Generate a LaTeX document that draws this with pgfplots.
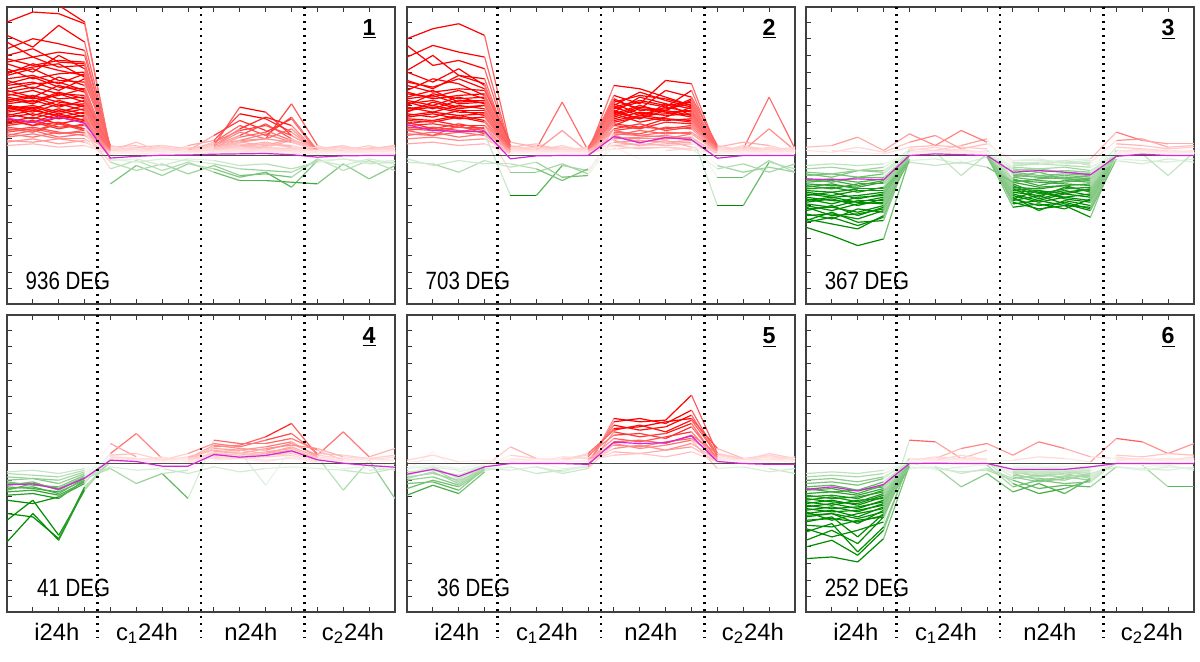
\documentclass[border=0pt]{standalone}
\usepackage{fontspec}
\setmainfont{Liberation Sans}
\newfontfamily\narrowfont[FakeStretch=0.82]{Liberation Sans}
\usepackage{pgfplots}
\usepackage{pgfplotstable}
\pgfplotsset{compat=1.18}
\definecolor{meanc}{RGB}{210,40,210}

% each row = one gene profile over 16 time points (4 per condition)
\pgfplotstableread{
9.5 9.2 9.0 8.0 0.3 0.2 0.4 0.1 0.2 0.5 0.3 0.2 0.1 0.2 0.3 0.2
8.0 8.6 8.5 7.9 0.2 0.5 0.1 0.3 0.3 0.4 0.5 0.2 0.3 0.2 0.1 0.4
7.2 6.5 7.8 6.8 0.4 0.1 0.3 0.2 0.1 0.2 0.1 0.0 0.2 0.3 0.2 0.1
6.4 7.0 6.7 6.3 0.3 0.5 0.3 0.2 0.2 0.3 0.4 0.2 0.3 0.2 0.3 0.3
6.8 5.9 6.2 6.0 0.5 0.6 0.2 0.3 0.8 1.5 1.8 1.2 0.3 0.2 0.4 0.3
6.0 6.4 5.6 5.5 0.2 0.3 0.5 0.2 0.4 0.6 0.5 0.9 0.5 0.3 0.6 0.2
5.8 5.4 5.7 5.6 0.4 0.3 0.2 0.2 0.3 0.4 0.3 0.4 0.2 0.3 0.2 0.3
5.6 5.9 5.3 5.4 0.3 0.2 0.3 0.4 0.3 0.5 0.4 0.3 0.2 0.3 0.2 0.2
5.5 5.0 6.0 5.2 0.3 0.8 0.2 0.4 0.6 2.9 2.6 1.2 0.4 0.5 0.3 0.5
5.2 4.6 4.9 5.0 0.1 0.2 0.4 0.1 0.2 0.3 0.2 0.5 0.2 0.1 0.3 0.6
5.0 5.3 5.5 4.7 0.2 0.3 0.2 0.3 0.4 0.6 0.8 0.5 0.3 0.2 0.2 0.3
4.9 5.5 5.1 4.8 0.3 0.2 0.4 0.3 0.6 1.2 1.9 1.0 0.3 0.2 0.3 0.2
4.8 5.2 4.5 4.4 0.6 0.3 0.2 0.5 0.3 0.8 1.0 3.1 0.6 0.2 0.1 0.3
4.6 4.8 4.3 4.9 0.3 0.4 0.3 0.2 0.2 0.3 0.3 0.2 0.2 0.2 0.3 0.2
4.5 4.0 4.7 4.2 -0.3 0.2 0.5 0.3 0.5 0.7 0.4 0.3 0.1 0.4 0.2 0.2
4.3 4.7 4.1 4.0 0.2 0.1 0.2 0.3 0.5 0.9 1.3 0.8 0.3 0.2 0.3 0.2
4.2 4.4 3.9 4.6 0.2 0.4 0.1 0.6 0.9 2.5 2.2 1.4 0.3 0.1 0.5 0.4
4.0 4.3 4.4 3.9 0.2 0.3 0.2 0.4 0.4 0.5 0.7 0.6 0.2 0.4 0.3 0.2
3.9 3.5 4.2 3.8 0.4 0.1 0.3 0.2 0.2 0.1 0.3 0.2 0.5 0.3 0.2 0.1
3.8 4.1 3.7 3.6 0.3 0.2 0.2 0.2 0.3 0.3 0.2 0.3 0.2 0.3 0.2 0.3
3.7 3.4 3.6 4.0 0.3 0.2 0.3 0.2 0.3 0.2 0.4 0.3 0.3 0.2 0.2 0.4
3.6 3.9 3.4 3.5 0.3 0.5 0.6 0.4 0.6 1.6 2.3 1.8 0.2 0.4 0.3 0.5
3.5 3.2 3.8 3.4 0.2 0.3 0.4 0.2 0.4 0.6 0.5 0.4 0.3 0.2 0.2 0.2
3.4 3.1 3.7 3.2 0.2 0.3 0.1 0.2 0.3 0.4 0.6 0.2 0.3 0.2 0.4 0.3
3.3 3.6 3.2 3.0 0.2 0.4 0.1 0.2 0.8 1.8 1.2 2.3 0.3 0.2 0.4 0.2
3.2 3.5 3.0 3.1 0.1 0.2 0.2 0.3 0.2 0.3 0.2 0.2 0.2 0.1 0.2 0.3
3.1 3.3 2.9 3.3 0.5 0.2 0.4 0.3 1.2 2.1 1.5 0.9 0.4 0.6 0.2 0.4
3.0 2.8 3.3 2.9 0.3 0.2 0.3 0.2 0.6 1.4 1.0 1.6 0.2 0.3 0.2 0.2
2.9 2.6 3.1 2.7 0.1 0.4 0.2 0.5 0.2 0.3 0.2 0.1 0.2 0.1 0.3 0.2
2.8 3.0 2.6 3.0 0.3 0.1 0.2 0.3 0.2 0.4 0.3 0.2 0.2 0.3 0.1 0.2
2.7 2.9 2.5 2.8 0.3 0.2 0.6 0.1 0.5 1.1 1.4 2.2 0.2 0.3 0.1 0.3
2.6 2.8 2.3 2.6 0.2 0.3 0.2 0.2 0.2 0.4 0.3 0.3 0.2 0.2 0.3 0.2
2.5 2.2 2.7 2.3 0.2 0.1 0.3 0.2 0.1 0.2 0.4 0.3 0.1 0.2 0.2 0.1
2.4 2.7 2.4 2.1 0.1 0.3 0.2 0.1 0.5 0.8 0.6 1.0 0.1 0.2 0.3 0.2
2.3 2.5 2.2 2.4 0.4 0.3 0.2 0.4 0.7 0.9 1.0 0.8 0.3 0.5 0.4 0.6
2.2 2.0 2.5 2.1 0.3 0.2 0.2 0.1 0.3 0.2 0.4 0.3 0.2 0.3 0.2 0.2
2.1 1.8 2.3 2.0 0.1 0.2 0.1 0.3 0.2 0.1 0.3 0.2 0.2 0.1 0.2 0.3
2.0 2.3 1.9 2.2 0.2 0.2 0.3 0.2 0.2 0.3 0.2 0.2 0.2 0.3 0.2 0.1
1.9 2.1 1.7 1.8 0.3 0.4 0.2 0.1 0.3 0.5 0.2 0.4 0.5 0.3 0.2 0.2
1.8 2.0 1.6 1.9 0.2 0.2 0.3 0.2 0.2 0.3 0.2 0.3 0.2 0.2 0.1 0.2
1.7 1.5 1.9 1.6 0.2 0.1 0.4 0.2 0.4 0.6 0.7 0.5 0.2 0.4 0.3 0.1
1.5 1.7 1.4 1.4 0.1 0.3 0.2 0.2 0.2 0.3 0.1 0.2 0.1 0.2 0.3 0.2
1.4 1.6 1.3 1.5 0.2 0.1 0.2 0.2 0.1 0.2 0.3 0.2 0.2 0.1 0.2 0.2
1.3 1.1 1.4 1.2 0.2 0.2 0.1 0.3 0.3 0.2 0.4 0.3 0.2 0.1 0.2 0.3
1.1 1.3 1.0 1.0 0.1 0.2 0.3 0.1 0.1 0.2 0.2 0.1 0.3 0.2 0.1 0.2
0.9 0.8 1.0 0.8 0.2 0.1 0.2 0.2 0.2 0.1 0.3 0.2 0.1 0.2 0.2 0.1
0.6 0.7 0.5 0.6 0.1 0.2 0.1 0.1 0.1 0.2 0.1 0.2 0.2 0.1 0.1 0.2
2.2 1.8 2.0 1.6 -1.7 -0.6 -1.2 -0.5 -0.8 -1.3 -1.0 -1.9 -0.3 -0.2 -0.4 -0.3
1.6 1.4 1.9 1.5 -0.8 -0.3 -0.9 -0.4 -1.0 -1.5 -1.5 -1.6 -1.7 -0.5 -1.4 -0.6
1.2 1.5 1.1 1.3 -0.4 -0.9 -0.5 -1.1 -0.6 -1.2 -1.1 -1.3 -0.2 -0.9 -0.3 -0.9
3.0 2.4 2.8 2.5 -0.2 -0.4 -0.2 -0.3 -0.5 -0.8 -0.9 -1.0 -0.3 -0.6 -0.2 -0.5
0.8 1.0 0.7 0.9 -0.3 -0.2 -0.6 -0.2 -0.3 -0.6 -0.5 -0.8 -0.4 -0.2 -0.5 -0.4
}\rawA
\pgfplotstabletranspose\tabA\rawA

\pgfplotstableread{
7.0 7.6 7.9 7.2 0.5 0.3 0.6 0.2 0.8 0.6 0.9 0.5 0.3 0.2 0.4 0.3
6.6 5.4 5.7 5.2 0.4 0.3 0.2 0.5 0.6 0.4 0.5 0.3 0.3 0.2 0.2 0.3
5.9 6.6 6.2 5.9 0.4 0.2 0.3 0.1 1.8 2.4 2.9 3.9 0.2 0.5 0.3 0.2
5.1 6.0 4.8 4.6 0.3 0.6 0.4 0.2 4.2 4.0 3.5 3.0 0.4 0.3 0.2 0.4
5.0 4.4 5.2 4.2 0.6 0.3 0.5 0.3 3.6 3.1 4.5 4.3 0.3 0.4 3.5 0.4
4.5 4.0 4.8 4.3 0.2 0.4 3.2 0.3 3.0 3.8 3.3 2.9 0.5 0.8 0.6 0.2
4.4 4.1 4.6 4.0 0.3 0.2 0.3 0.4 3.2 3.6 3.4 3.0 0.3 0.2 0.3 0.2
4.2 3.8 4.0 3.9 0.8 0.5 0.2 0.4 3.3 2.8 3.9 3.5 0.6 0.3 1.6 0.3
3.9 4.6 4.3 3.6 0.3 0.5 0.4 0.3 2.6 3.5 3.1 2.4 0.2 0.4 0.3 0.2
3.8 3.4 3.6 3.7 0.3 0.2 0.4 0.2 2.9 3.3 3.0 3.2 0.3 0.2 0.3 0.5
3.7 3.5 3.9 3.4 0.2 0.3 0.2 0.2 2.4 2.9 2.7 3.3 0.2 0.3 0.2 0.3
3.5 3.9 3.2 3.3 0.5 0.7 0.3 0.4 3.1 2.5 2.7 3.4 0.2 0.6 0.3 0.2
3.4 3.6 3.1 3.2 0.3 0.2 0.4 0.3 2.9 2.4 2.5 2.7 0.3 0.2 0.3 0.2
3.3 3.0 3.5 3.1 0.2 0.3 1.5 0.2 2.5 3.0 2.6 2.7 0.4 0.2 0.2 0.3
3.2 2.8 3.3 3.3 0.2 0.3 0.2 0.2 2.3 2.8 2.6 2.3 0.2 0.3 0.2 0.2
3.1 3.3 2.9 3.0 0.4 0.2 0.3 0.5 2.7 2.2 3.1 2.8 0.3 0.5 0.4 0.2
3.0 3.7 3.4 3.5 0.2 0.3 0.2 0.4 3.4 2.7 2.8 3.1 0.3 0.2 0.4 0.3
2.9 2.6 3.0 2.8 0.3 0.5 0.2 0.3 2.2 2.6 2.4 2.5 0.5 0.3 0.2 0.4
2.8 3.0 2.7 2.7 0.3 0.2 0.2 0.3 2.6 2.2 2.7 2.4 0.3 0.2 0.2 0.3
2.7 2.9 2.6 2.6 0.2 0.3 0.4 0.2 2.5 2.0 2.3 2.9 0.2 0.4 0.3 0.3
2.6 3.2 2.8 3.0 0.4 0.2 0.3 0.2 2.8 3.2 2.9 2.6 0.4 0.2 0.3 0.2
2.5 2.3 2.7 2.4 0.5 0.2 0.3 0.4 2.0 2.3 2.1 2.2 0.3 0.2 0.5 0.2
2.4 2.6 2.4 2.5 0.2 0.2 0.3 0.2 2.1 2.4 2.2 2.0 0.2 0.3 0.2 0.2
2.3 2.5 2.2 2.3 0.3 0.4 0.2 0.1 1.8 1.6 2.0 1.9 0.2 0.3 0.2 0.3
2.2 2.1 2.4 2.1 0.3 0.2 0.2 0.2 1.9 1.7 2.2 2.1 0.2 0.2 0.3 0.2
2.1 2.0 2.3 2.0 0.2 0.1 0.3 0.2 1.6 1.9 1.5 1.7 0.4 0.2 0.3 0.2
1.9 2.1 1.8 1.8 0.4 0.3 0.2 0.3 1.4 1.3 1.7 1.6 0.2 0.3 0.2 0.4
1.8 1.9 1.7 1.7 0.2 0.3 0.2 0.2 1.5 1.7 1.6 1.8 0.2 0.2 0.2 0.3
1.7 1.6 1.9 1.6 0.2 0.2 0.3 0.2 1.2 1.5 1.3 1.4 0.3 0.2 0.1 0.2
1.6 1.5 1.7 1.5 0.2 0.2 0.2 0.1 1.3 1.2 1.4 1.3 0.2 0.1 0.2 0.2
1.5 1.7 1.5 1.4 0.3 0.2 0.2 0.3 1.0 1.1 1.2 1.0 0.2 0.1 0.2 0.3
1.3 1.2 1.4 1.2 0.1 0.2 0.1 0.2 0.8 0.9 0.8 0.9 0.1 0.2 0.2 0.1
1.2 1.4 1.1 1.3 0.1 0.2 0.1 0.2 1.1 1.0 1.0 1.1 0.1 0.2 0.1 0.1
1.0 1.1 0.9 1.0 0.2 0.1 0.2 0.1 0.6 0.7 0.6 0.7 0.2 0.1 0.1 0.2
0.7 0.8 0.6 0.7 0.1 0.1 0.1 0.2 0.4 0.5 0.5 0.4 0.1 0.2 0.1 0.1
1.5 1.2 1.8 1.3 -2.4 -2.4 -0.6 -0.9 1.2 0.8 1.0 1.3 -3.0 -3.0 -0.4 -0.8
2.0 1.6 1.4 1.7 -1.0 -1.0 -0.5 -1.1 1.5 1.2 1.1 1.0 -1.3 -1.3 -0.3 -1.0
-0.4 -0.5 -1.0 -0.3 -0.7 -0.4 -1.3 -1.2 0.9 0.6 0.7 0.8 -0.6 -1.0 -0.7 -1.0
-0.2 -0.6 -0.3 -0.5 -0.5 -0.8 -1.5 -0.8 0.5 -0.2 0.3 0.4 -0.8 -0.5 -1.0 -0.5
}\rawB
\pgfplotstabletranspose\tabB\rawB

\pgfplotstableread{
-4.3 -4.8 -5.4 -5.0 -0.2 0.1 0.3 0.1 -2.8 -3.2 -3.0 -3.7 0.2 0.1 -0.2 0.1
-4.0 -3.7 -4.2 -3.7 0.1 0.1 0.2 0.1 -2.6 -3.0 -2.8 -3.2 0.1 0.2 0.1 0.1
-3.9 -3.4 -4.0 -3.9 0.2 0.1 0.3 0.1 -2.0 -2.6 -2.2 -2.0 0.3 0.2 0.2 0.1
-3.8 -4.1 -4.4 -3.6 0.1 -0.2 0.2 0.0 -3.1 -2.9 -3.2 -2.6 0.1 -0.1 0.2 0.0
-3.6 -3.5 -3.8 -3.3 0.1 0.2 0.1 0.2 -2.9 -2.7 -3.0 -3.1 0.2 0.1 0.2 0.1
-3.5 -3.8 -3.2 -3.4 0.2 0.3 0.1 0.2 -2.5 -3.3 -2.7 -3.0 0.3 0.2 0.1 0.2
-3.3 -3.0 -3.6 -3.1 -0.3 -0.2 -0.5 -0.1 -2.7 -2.4 -2.9 -3.3 -0.2 -0.3 -0.4 -0.2
-3.2 -3.1 -3.4 -3.0 0.2 0.1 0.2 0.1 -2.4 -2.8 -2.5 -2.7 0.1 0.2 0.1 0.2
-3.1 -3.6 -3.5 -3.2 0.1 0.3 0.2 0.2 -2.6 -2.1 -2.6 -2.8 0.1 0.2 0.1 0.3
-3.0 -3.3 -2.9 -2.8 0.1 0.2 0.3 0.1 -2.3 -2.7 -2.3 -2.5 0.2 0.1 0.3 0.2
-2.9 -3.1 -2.7 -2.7 0.1 0.2 0.1 0.2 -2.2 -2.4 -2.1 -2.4 0.2 0.1 0.1 0.2
-2.8 -2.6 -3.0 -2.6 0.3 0.1 0.2 0.2 -2.1 -2.2 -2.5 -2.3 0.1 0.2 0.1 0.1
-2.7 -2.5 -2.8 -2.5 0.2 0.1 0.2 0.2 -2.0 -2.1 -2.3 -2.0 0.1 0.2 0.2 0.1
-2.6 -2.9 -2.5 -2.4 0.2 0.2 0.4 0.1 -1.9 -2.0 -1.8 -2.2 0.2 0.4 0.2 0.3
-2.5 -2.7 -2.8 -2.9 0.2 0.3 0.2 0.1 -1.8 -2.5 -1.9 -2.1 0.2 0.3 0.2 0.2
-2.4 -2.2 -2.6 -2.3 -0.2 0.1 -0.3 0.1 -1.7 -2.3 -2.0 -1.9 0.1 -0.1 0.1 0.2
-2.3 -2.5 -2.4 -2.2 0.1 0.2 0.1 0.1 -1.6 -1.9 -1.8 -1.7 0.2 0.1 0.1 0.2
-2.2 -2.4 -2.1 -2.1 0.1 0.2 0.1 0.3 -1.5 -1.6 -1.7 -1.8 0.3 0.2 0.1 0.2
-2.1 -2.2 -2.0 -2.0 0.2 0.1 0.1 0.2 -1.3 -1.5 -1.6 -1.4 0.1 0.1 0.2 0.1
-2.0 -1.9 -2.2 -1.9 0.3 0.5 0.2 0.1 -1.4 -1.8 -1.5 -1.6 0.2 0.1 0.2 0.1
-1.9 -1.7 -2.0 -2.0 -0.4 -0.6 -0.4 -0.7 -1.6 -1.4 -1.3 -1.4 -0.3 -0.5 -0.2 -0.4
-1.8 -2.0 -1.7 -1.7 0.1 0.1 0.2 0.2 -1.2 -1.3 -1.4 -1.5 0.1 0.3 0.2 0.1
-1.7 -1.8 -1.9 -1.6 0.1 0.1 0.2 0.1 -1.1 -1.3 -1.2 -1.3 0.1 0.2 0.1 0.1
-1.6 -1.5 -1.8 -1.5 -0.2 0.2 -1.2 0.1 -1.0 -1.2 -1.1 -1.2 -0.3 0.1 -1.2 0.2
-1.5 -1.4 -1.6 -1.4 0.1 0.2 0.1 0.1 -0.8 -1.0 -0.9 -1.0 0.2 0.1 0.1 0.1
-1.4 -1.6 -1.3 -1.3 0.1 0.2 0.1 0.1 -0.9 -0.8 -1.0 -1.1 0.2 0.1 0.1 0.3
-1.2 -1.1 -1.3 -1.1 0.2 0.1 0.3 0.2 -0.7 -0.8 -0.7 -0.9 0.1 0.2 0.2 0.1
-1.1 -1.3 -0.9 -1.0 0.4 0.3 0.6 1.0 -1.3 -1.0 -1.4 -1.2 0.5 0.4 0.3 0.2
-1.0 -1.1 -0.9 -0.9 0.1 0.2 0.1 0.1 -0.6 -0.5 -0.6 -0.7 0.1 0.1 0.2 0.2
-0.8 -0.7 -0.9 -0.7 0.2 0.1 0.2 0.1 -0.4 -0.5 -0.4 -0.5 0.2 0.1 0.1 0.1
-0.6 -0.5 -0.6 -0.5 0.1 0.1 0.1 0.2 -0.3 -0.3 -0.4 -0.3 0.1 0.2 0.1 0.1
0.5 0.6 1.1 0.3 1.3 0.6 0.5 0.4 -0.6 -0.5 -0.3 -0.2 1.4 0.9 0.7 0.7
0.3 0.2 0.5 0.2 0.8 1.2 0.4 0.7 -0.3 -0.2 -0.5 -0.4 0.9 1.0 0.5 0.6
-0.2 0.3 0.2 0.1 0.5 0.6 1.5 0.8 -0.5 -0.4 -0.3 -0.6 0.7 0.6 0.4 0.5
}\rawC
\pgfplotstabletranspose\tabC\rawC

\pgfplotstableread{
-4.7 -3.0 -4.6 -1.5 0.3 0.2 0.1 0.0 0.4 0.3 0.5 0.6 0.2 0.1 0.0 -0.2
-3.0 -3.2 -4.5 -1.4 0.1 -0.2 0.2 -0.3 0.2 0.3 0.1 0.4 0.0 -0.3 -0.2 -0.4
-3.4 -2.2 -4.3 -1.6 0.2 0.1 -0.2 0.1 0.5 0.4 0.6 0.8 0.1 0.2 -0.1 0.0
-2.2 -2.4 -2.0 -1.2 0.6 1.8 0.3 0.2 1.0 1.1 1.6 2.4 0.5 1.9 0.4 0.9
-1.9 -1.8 -2.1 -1.0 1.2 0.4 -0.6 -2.1 1.4 1.2 1.2 1.5 0.8 0.2 0.3 0.1
-1.7 -1.6 -1.9 -1.1 0.2 0.1 0.3 0.2 0.9 0.8 1.0 1.3 0.4 -1.6 0.2 -2.1
-1.6 -1.2 -1.5 -0.9 -0.2 -0.4 -0.3 -0.6 -0.2 -0.5 -0.3 -0.2 -0.3 -0.4 -0.6 -0.3
-1.5 -1.4 -1.8 -0.9 -0.3 -1.2 -0.6 -0.4 0.6 0.7 -1.3 0.9 0.3 0.1 -0.4 -0.3
-1.4 -1.5 -1.7 -1.0 0.4 0.3 0.2 0.6 1.2 1.0 1.4 1.8 0.6 0.5 0.3 0.2
-1.3 -1.1 -1.6 -0.8 0.5 0.6 0.2 0.3 1.1 0.9 0.8 1.2 0.5 0.3 0.2 0.4
-1.2 -1.2 -1.5 -0.8 0.2 0.1 0.1 0.2 0.6 0.5 0.7 0.9 0.2 0.1 0.1 0.1
-1.1 -1.3 -1.4 -0.7 0.3 0.2 0.4 0.1 0.7 0.8 0.6 1.0 0.4 0.2 0.1 0.2
-1.0 -0.9 -1.2 -0.6 0.4 0.3 0.2 0.4 0.8 0.6 0.9 1.1 0.9 0.4 0.3 0.5
-0.8 -0.9 -1.0 -0.5 0.1 0.2 0.1 0.3 0.5 0.6 0.5 0.7 0.3 0.2 0.1 0.1
-0.6 -0.7 -0.8 -0.4 0.2 0.1 -0.3 0.1 0.4 0.3 0.4 0.5 0.1 0.1 -0.2 0.0
-0.5 -0.4 -0.6 -0.3 0.1 0.2 0.1 0.2 0.3 0.4 0.2 0.3 0.2 0.1 0.1 0.1
}\rawD
\pgfplotstabletranspose\tabD\rawD

\pgfplotstableread{
-1.9 -1.3 -1.8 -0.5 0.2 0.1 -0.3 -0.2 2.7 2.5 2.6 4.1 0.6 0.2 0.1 0.3
-1.5 -1.0 -1.4 -0.4 0.1 -0.2 -0.5 -0.1 2.5 2.7 2.4 3.2 0.5 0.3 0.2 0.1
-1.2 -1.1 -1.6 -0.3 0.3 0.2 -0.1 0.1 2.3 2.0 2.2 2.9 0.4 0.1 0.3 0.2
-0.9 -0.5 -1.2 -0.2 1.0 0.3 0.2 0.4 2.1 2.2 2.5 2.7 0.9 0.3 0.5 0.2
-0.7 -0.3 -1.1 -0.2 0.5 0.3 0.2 0.6 2.0 2.3 1.9 2.6 0.5 0.2 0.6 0.3
-0.8 -0.6 -1.0 -0.4 -0.2 -0.6 -0.4 -0.2 1.9 1.6 1.8 2.4 0.2 0.1 -0.3 -0.6
-0.6 -0.2 -0.9 -0.2 0.2 0.1 0.3 0.5 1.7 1.8 1.5 2.2 0.3 0.2 0.4 0.3
-0.5 -0.4 -0.7 -0.1 0.1 0.2 0.1 0.2 1.5 1.3 1.6 1.9 0.2 -0.3 0.2 0.1
-0.4 0.7 -0.5 -0.1 0.3 0.1 0.2 0.1 1.3 1.4 1.2 1.7 0.6 0.3 0.2 0.4
-1.0 -0.8 -1.3 -0.3 -0.4 -0.2 -0.6 -0.3 1.2 0.9 1.1 1.4 -0.3 -0.2 -0.5 -0.3
-0.3 -0.2 -0.4 0.1 0.2 0.1 0.4 0.3 1.1 1.0 1.3 1.5 0.3 0.1 0.5 0.2
-0.2 -0.1 -0.3 0.0 0.1 0.2 0.1 0.1 0.9 1.1 0.8 1.2 0.2 0.1 0.1 0.3
0.1 0.2 -0.2 0.1 0.2 0.1 0.2 0.1 0.7 0.6 0.8 1.0 0.1 0.2 0.1 0.1
0.2 0.5 0.1 0.2 0.1 0.2 0.1 0.2 0.5 0.6 0.4 0.7 0.1 0.1 0.2 0.1
}\rawE
\pgfplotstabletranspose\tabE\rawE

\pgfplotstableread{
-5.7 -5.6 -5.9 -4.5 -0.1 0.2 -0.2 0.1 -1.2 -1.8 -1.5 -1.0 0.1 0.0 -0.2 0.1
-5.0 -4.6 -5.5 -4.0 0.2 0.1 0.3 0.2 -0.5 -0.7 -0.6 -0.9 0.1 0.2 0.3 0.2
-4.6 -4.0 -4.8 -3.2 0.3 0.2 0.1 0.3 -0.4 -0.3 -0.6 -0.5 0.2 0.3 0.2 0.1
-4.1 -3.6 -5.3 -3.8 0.1 -0.2 -1.4 -0.6 -1.7 -1.2 -1.8 -0.9 0.2 -0.1 -1.4 -1.4
-3.9 -4.4 -4.0 -3.5 1.4 1.3 0.3 0.2 0.2 0.4 0.3 0.1 1.5 1.3 0.6 1.2
-3.7 -3.8 -3.4 -3.2 0.2 0.3 0.2 0.1 -0.6 -1.0 -0.8 -1.0 0.2 0.1 0.2 0.4
-3.5 -3.2 -4.4 -3.0 0.2 0.1 0.3 0.1 -0.8 -1.1 -0.9 -0.7 0.1 0.2 0.3 0.2
-3.4 -3.3 -3.5 -3.1 0.1 0.2 0.1 0.1 -0.4 -0.6 -0.5 -0.4 0.1 0.2 0.1 0.1
-3.2 -3.0 -3.6 -2.8 -0.2 -0.3 -0.5 -0.4 -1.0 -1.5 -1.3 -1.4 -0.2 -0.3 -0.4 -0.2
-3.1 -3.0 -3.3 -2.9 0.2 0.1 0.1 0.2 -0.5 -0.3 -0.4 -0.3 0.1 0.1 0.2 0.1
-3.0 -2.8 -3.2 -2.6 0.2 0.3 0.9 1.2 0.5 1.3 0.9 0.4 0.3 0.2 0.1 0.3
-2.9 -3.4 -3.0 -2.7 0.2 0.4 0.3 0.8 -0.7 -0.9 -1.0 -0.6 0.4 0.2 0.1 0.3
-2.8 -2.6 -2.9 -2.4 0.1 0.2 0.1 0.2 -0.5 -0.8 -0.6 -0.4 0.2 0.1 0.2 0.1
-2.7 -2.9 -2.8 -2.5 0.1 0.1 0.2 0.1 -0.3 -0.5 -0.4 -0.2 0.2 0.1 0.1 0.2
-2.6 -2.4 -2.7 -2.2 -0.1 0.1 -0.3 0.1 -0.6 -0.5 -0.7 -0.8 0.0 0.1 -0.2 0.1
-2.5 -2.7 -2.6 -2.3 0.1 -0.4 -0.2 -0.1 -1.4 -1.0 -1.2 -1.1 0.1 -0.2 -0.1 -0.4
-2.4 -2.2 -2.5 -2.0 0.2 0.1 0.2 0.3 -0.3 -0.4 -0.5 -0.3 0.1 0.2 0.1 0.1
-2.3 -2.5 -2.2 -2.1 0.1 0.2 0.1 0.1 -0.6 -0.4 -0.5 -0.7 0.1 0.1 0.1 0.1
-2.2 -2.0 -2.3 -1.8 0.1 0.3 0.1 0.1 -0.4 -0.6 -0.3 -0.5 0.2 0.1 0.2 0.2
-2.1 -2.3 -2.4 -1.9 0.3 0.2 0.5 0.2 -0.3 -0.5 -0.4 -0.6 0.5 0.4 0.6 0.5
-2.0 -1.9 -2.1 -1.6 -0.3 -0.2 -0.6 -0.3 -0.9 -0.7 -0.8 -0.6 -0.2 -0.4 -0.2 -0.3
-1.9 -2.1 -2.0 -1.7 0.2 0.1 0.1 0.1 -0.2 -0.4 -0.3 -0.3 0.1 0.2 0.1 0.1
-1.8 -1.7 -1.9 -1.5 0.1 0.2 0.1 0.1 -0.2 -0.3 -0.2 -0.2 0.1 0.1 0.2 0.1
-1.6 -1.5 -1.8 -1.3 0.2 0.1 0.3 0.2 -0.4 -0.2 -0.3 -0.2 0.2 0.3 0.1 0.2
-1.5 -1.7 -1.6 -1.4 0.1 0.1 0.1 0.2 -0.3 -0.2 -0.4 -0.2 0.1 0.1 0.1 0.1
-1.4 -1.3 -1.6 -1.1 0.1 0.1 0.1 0.2 -0.1 -0.3 -0.2 -0.1 0.1 0.1 0.1 0.2
-1.2 -1.1 -1.3 -0.9 0.2 0.1 0.2 0.1 -0.2 -0.1 -0.2 -0.2 0.1 0.2 0.1 0.1
-1.0 -0.9 -1.1 -0.8 0.1 0.1 0.1 0.1 -0.1 -0.2 -0.1 -0.1 0.1 0.1 0.1 0.1
-0.8 -0.7 -0.8 -0.6 0.1 0.1 0.1 0.1 -0.1 -0.1 -0.2 -0.1 0.1 0.1 0.1 0.1
-0.6 -0.5 -0.6 -0.4 0.1 0.1 0.1 0.1 -0.1 -0.1 -0.1 -0.1 0.1 0.1 0.1 0.1
}\rawF
\pgfplotstabletranspose\tabF\rawF

\tikzset{
  vdots/.style={black, line width=1.1pt, dash pattern=on 1.1pt off 2.4pt},
  degl/.style={anchor=base east, font=\narrowfont\fontsize{12.5}{14}\selectfont, inner sep=0pt},
  numl/.style={anchor=base, font=\bfseries\fontsize{11.6}{13}\selectfont, inner sep=0pt},
  zline/.style={black!70, line width=0.6pt},
}
\pgfplotsset{
  panel/.style={
    scale only axis, width=194pt, height=148.5pt, anchor=south west,
    xmin=0, xmax=15, ymin=-8.9, ymax=8.9,
    xtick={1,...,14}, xticklabels={},
    ytick={-8,...,8}, yticklabels={},
    ytick pos=left, xtick pos=both, tick align=inside,
    major tick length=2.5pt,
    every tick/.style={black!80, line width=0.5pt},
    axis line style={black!75, line width=0.6pt},
    clip mode=individual,
    colormap={rwg}{rgb255=(0,140,0) rgb255=(255,255,255) rgb255=(255,0,0)},
    point meta min=-2.2, point meta max=2.2,
    tick label style={font=\fontsize{11.9}{14}\selectfont},
  },
  bottomrow/.style={
    extra x ticks={1.93,5.41,9.43,13.37},
    extra x tick labels={i24h, c\textsubscript{1}24h, n24h, c\textsubscript{2}24h},
    extra x tick style={major tick length=0pt, tick label style={anchor=base, yshift=-14pt}},
  },
  gene/.style={mesh, point meta=y, line width=0.6pt, forget plot},
  meanline/.style={meanc, line width=0.6pt, forget plot},
}

\begin{document}
\begin{tikzpicture}
\useasboundingbox (0pt,0pt) rectangle (600pt,330.5pt);

% ---------- panel 1
\begin{axis}[panel, at={(3.5pt,178.5pt)}]
\pgfplotsinvokeforeach{1,...,52}{\addplot[gene] table[x expr=\coordindex, y index=#1]{\tabA};}
\draw[zline] (axis cs:0,0) -- (axis cs:15,0);
\addplot[meanline] coordinates {(0,2.24)(1,1.98)(2,2.3)(3,1.94)(4,-0.15)(5,-0.05)(6,0.02)(7,0.03)(8,0.08)(9,0.1)(10,0.12)(11,0.05)(12,-0.1)(13,-0.02)(14,0)(15,0)};
\pgfplotsinvokeforeach{3.5,7.5,11.5}{\draw[vdots] (axis cs:#1,8.9) -- (axis cs:#1,-9.6);}
\node[degl] at (axis cs:4.0,-8.05) {936 DEG};
\node[numl] at (axis cs:14,7.22) {\underline{1}};
\end{axis}

% ---------- panel 2
\begin{axis}[panel, at={(203.5pt,178.5pt)}]
\pgfplotsinvokeforeach{1,...,39}{\addplot[gene] table[x expr=\coordindex, y index=#1]{\tabB};}
\draw[zline] (axis cs:0,0) -- (axis cs:15,0);
\addplot[meanline] coordinates {(0,1.84)(1,1.5)(2,1.44)(3,1.44)(4,-0.2)(5,-0.02)(6,0)(7,0)(8,1.14)(9,0.76)(10,1.08)(11,0.94)(12,-0.16)(13,0)(14,0)(15,0)};
\pgfplotsinvokeforeach{3.5,7.5,11.5}{\draw[vdots] (axis cs:#1,8.9) -- (axis cs:#1,-9.6);}
\node[degl] at (axis cs:4.0,-8.05) {703 DEG};
\node[numl] at (axis cs:14,7.22) {\underline{2}};
\end{axis}

% ---------- panel 3
\begin{axis}[panel, at={(403pt,178.5pt)}]
\pgfplotsinvokeforeach{1,...,34}{\addplot[gene] table[x expr=\coordindex, y index=#1]{\tabC};}
\draw[zline] (axis cs:0,0) -- (axis cs:15,0);
\addplot[meanline] coordinates {(0,-1.4)(1,-1.45)(2,-1.4)(3,-1.45)(4,0)(5,0.1)(6,0.05)(7,0)(8,-1.0)(9,-0.9)(10,-1.0)(11,-1.15)(12,-0.05)(13,0.08)(14,0)(15,0)};
\pgfplotsinvokeforeach{3.5,7.5,11.5}{\draw[vdots] (axis cs:#1,8.9) -- (axis cs:#1,-9.6);}
\node[degl] at (axis cs:4.0,-8.05) {367 DEG};
\node[numl] at (axis cs:14,7.22) {\underline{3}};
\end{axis}

% ---------- panel 4
\begin{axis}[panel, bottomrow, at={(3.5pt,24.5pt)}]
\pgfplotsinvokeforeach{1,...,16}{\addplot[gene] table[x expr=\coordindex, y index=#1]{\tabD};}
\draw[zline] (axis cs:0,0) -- (axis cs:15,0);
\addplot[meanline] coordinates {(0,-1.28)(1,-1.22)(2,-1.54)(3,-0.88)(4,0.2)(5,0.12)(6,-0.16)(7,-0.16)(8,0.54)(9,0.38)(10,0.48)(11,0.76)(12,0.22)(13,0.02)(14,-0.12)(15,-0.22)};
\pgfplotsinvokeforeach{3.5,7.5,11.5}{\draw[vdots] (axis cs:#1,8.9) -- (axis cs:#1,-10.45);}
\node[degl] at (axis cs:4.0,-8.0) {41 DEG};
\node[numl] at (axis cs:14,7.22) {\underline{4}};
\end{axis}

% ---------- panel 5
\begin{axis}[panel, bottomrow, at={(203.5pt,24.5pt)}]
\pgfplotsinvokeforeach{1,...,14}{\addplot[gene] table[x expr=\coordindex, y index=#1]{\tabE};}
\draw[zline] (axis cs:0,0) -- (axis cs:15,0);
\addplot[meanline] coordinates {(0,-0.64)(1,-0.35)(2,-0.78)(3,-0.2)(4,0)(5,0)(6,0)(7,-0.05)(8,1.28)(9,1.2)(10,1.25)(11,1.65)(12,0.12)(13,0)(14,-0.05)(15,-0.05)};
\pgfplotsinvokeforeach{3.5,7.5,11.5}{\draw[vdots] (axis cs:#1,8.9) -- (axis cs:#1,-10.45);}
\node[degl] at (axis cs:4.0,-8.0) {36 DEG};
\node[numl] at (axis cs:14,7.22) {\underline{5}};
\end{axis}

% ---------- panel 6
\begin{axis}[panel, bottomrow, at={(403pt,24.5pt)}]
\pgfplotsinvokeforeach{1,...,30}{\addplot[gene] table[x expr=\coordindex, y index=#1]{\tabF};}
\draw[zline] (axis cs:0,0) -- (axis cs:15,0);
\addplot[meanline] coordinates {(0,-1.55)(1,-1.4)(2,-1.65)(3,-1.25)(4,0)(5,0.02)(6,0)(7,0)(8,-0.35)(9,-0.35)(10,-0.35)(11,-0.2)(12,0)(13,0)(14,0)(15,0)};
\pgfplotsinvokeforeach{3.5,7.5,11.5}{\draw[vdots] (axis cs:#1,8.9) -- (axis cs:#1,-10.45);}
\node[degl] at (axis cs:4.0,-8.0) {252 DEG};
\node[numl] at (axis cs:14,7.22) {\underline{6}};
\end{axis}
\end{tikzpicture}
\end{document}
